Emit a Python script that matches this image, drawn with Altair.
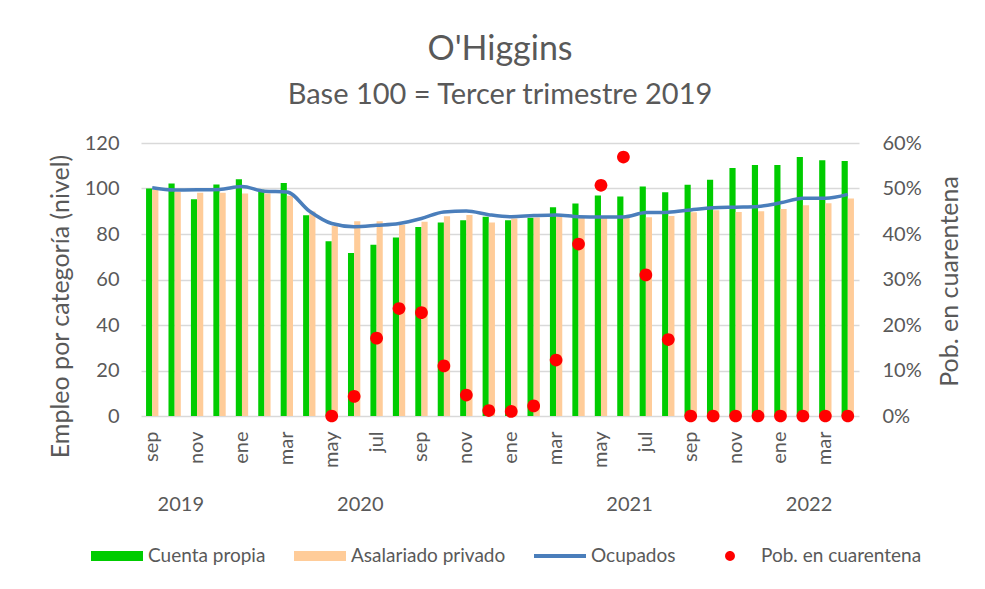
import altair as alt
import pandas as pd

# ---------------- data ----------------
periodos = [
    "2019-09", "2019-10", "2019-11", "2019-12",
    "2020-01", "2020-02", "2020-03", "2020-04", "2020-05", "2020-06",
    "2020-07", "2020-08", "2020-09", "2020-10", "2020-11", "2020-12",
    "2021-01", "2021-02", "2021-03", "2021-04", "2021-05", "2021-06",
    "2021-07", "2021-08", "2021-09", "2021-10", "2021-11", "2021-12",
    "2022-01", "2022-02", "2022-03", "2022-04",
]
meses_abrev = ["ene", "feb", "mar", "abr", "may", "jun",
               "jul", "ago", "sep", "oct", "nov", "dic"]

cuenta_propia = [100.0, 102.2, 95.3, 101.8, 104.1, 99.4, 102.4, 88.2, 76.8, 71.6,
                 75.3, 78.5, 83.1, 85.1, 86.0, 87.6, 86.0, 87.1, 91.8, 93.4,
                 96.9, 96.5, 100.9, 98.4, 101.6, 103.8, 109.0, 110.3, 110.3, 113.8,
                 112.4, 112.1]
asalariado_privado = [99.7, 98.5, 98.1, 98.1, 97.8, 97.8, 96.8, 89.9, 83.5, 85.6,
                      85.6, 84.1, 85.4, 87.8, 88.4, 85.1, 86.8, 87.2, 87.6, 87.2,
                      87.2, 87.2, 87.4, 87.9, 89.6, 90.4, 89.7, 90.0, 91.0, 92.6,
                      93.5, 95.6]
ocupados = [100.3, 99.3, 99.4, 99.6, 100.9, 98.8, 98.5, 90.1, 84.6, 83.2,
            83.8, 84.6, 86.8, 89.7, 90.1, 88.5, 87.6, 88.1, 88.4, 87.6,
            87.5, 87.5, 89.4, 89.6, 90.6, 91.5, 91.8, 92.1, 93.7, 95.7,
            95.7, 97.4]
# % population under quarantine (None = no data)
cuarentena_pct = [None, None, None, None, None, None, None, None,
                  0.0, 4.3, 17.1, 23.6, 22.7, 11.0, 4.6, 1.2,
                  1.0, 2.2, 12.3, 37.8, 50.7, 56.9, 31.0, 16.8,
                  0.0, 0.0, 0.0, 0.0, 0.0, 0.0, 0.0, 0.0]

series = ["Cuenta propia", "Asalariado privado", "Ocupados", "Pob. en cuarentena"]
colores = ["#00cc00", "#ffcc99", "#4a7ebb", "#ff0000"]
formas = [
    "M-1,-0.19H1V0.19H-1Z",
    "M-1,-0.19H1V0.19H-1Z",
    "M-1,-0.075H1V0.075H-1Z",
    "M0.19,0A0.19,0.19,0,1,1,-0.19,0A0.19,0.19,0,1,1,0.19,0Z",
]

# ---------------- tables ----------------
bars_df = pd.DataFrame({
    "periodo": periodos * 2,
    "serie": ["Cuenta propia"] * len(periodos) + ["Asalariado privado"] * len(periodos),
    "valor": cuenta_propia + asalariado_privado,
})
line_df = pd.DataFrame({"periodo": periodos, "valor": ocupados})
pts_df = pd.DataFrame({
    "periodo": [p for p, v in zip(periodos, cuarentena_pct) if v is not None],
    "cuarentena": [v / 100 for v in cuarentena_pct if v is not None],
})
pts_df["serie"] = "Pob. en cuarentena"

# year labels centred under each year's months
anios, anclas = [], []
for anio in sorted(set(p[:4] for p in periodos)):
    idx = [i for i, p in enumerate(periodos) if p[:4] == anio]
    centro = (idx[0] + idx[-1]) // 2
    anios.append(anio)
    anclas.append(periodos[centro])
years_df = pd.DataFrame({"periodo": anclas, "anio": anios})

# ---------------- encodings ----------------
GRIS = "#595959"
label_expr = "[" + ",".join(f"'{m}'" for m in meses_abrev) + "][toNumber(slice(datum.value,5,7))-1]"
x_axis = alt.Axis(values=periodos[::2], labelExpr=label_expr, labelAngle=270,
                  labelPadding=15, labelFontSize=20, title=None, domain=False, ticks=False)
x_scale = alt.Scale(domain=periodos, paddingInner=0.45, paddingOuter=0.225)

y_axis = alt.Axis(values=[0, 20, 40, 60, 80, 100, 120], title="Empleo por categoría (nivel)",
                  labelPadding=22, labelFontSize=20, titleFontSize=25, titleX=-81, titleY=163,
                  titleAngle=270, titleAlign="center", titleBaseline="middle",
                  grid=True, domain=False, ticks=False)
y_scale = alt.Scale(domain=[0, 120])

color_scale = alt.Scale(domain=series, range=colores)
legend = alt.Legend(title=None, orient="none", legendX=-50, legendY=387, direction="horizontal",
                    symbolSize=2704, labelFontSize=19, labelColor=GRIS, columnPadding=28,
                    labelOffset=5, labelLimit=400, symbolStrokeWidth=0, padding=0)

bars = alt.Chart(bars_df).mark_bar().encode(
    x=alt.X("periodo:N", scale=x_scale, axis=x_axis),
    xOffset=alt.XOffset("serie:N", scale=alt.Scale(domain=series[:2], paddingInner=0, paddingOuter=0)),
    y=alt.Y("valor:Q", scale=y_scale, axis=y_axis),
    color=alt.Color("serie:N", scale=color_scale, legend=legend),
)

line = alt.Chart(line_df).mark_line(color="#4a7ebb", strokeWidth=3.5, interpolate="monotone").encode(
    x=alt.X("periodo:N", scale=x_scale, axis=x_axis),
    y=alt.Y("valor:Q", scale=y_scale, axis=y_axis),
)

years = alt.Chart(years_df).mark_text(fontSize=20, color=GRIS, baseline="middle").encode(
    x=alt.X("periodo:N", scale=x_scale, axis=x_axis, bandPosition=1),
    y=alt.value(362),
    text="anio:N",
)

pts = alt.Chart(pts_df).mark_point(filled=True, size=4500, opacity=1, strokeWidth=0).encode(
    x=alt.X("periodo:N", scale=x_scale, axis=x_axis),
    y=alt.Y("cuarentena:Q", scale=alt.Scale(domain=[0, 0.6]),
            axis=alt.Axis(orient="right", values=[0, 0.1, 0.2, 0.3, 0.4, 0.5, 0.6], format=".0%",
                          title="Pob. en cuarentena", labelPadding=23, labelFontSize=20,
                          titleFontSize=25, titleX=90, titleY=138, titleAngle=270,
                          titleAlign="center", titleBaseline="middle",
                          grid=False, domain=False, ticks=False)),
    color=alt.Color("serie:N", scale=color_scale, legend=legend),
    shape=alt.Shape("serie:N", scale=alt.Scale(domain=series, range=formas), legend=legend),
)

chart = alt.layer(
    alt.layer(bars, line, years),
    pts,
).resolve_scale(y="independent").properties(
    width=718,
    height=273,
    autosize=alt.AutoSizeParams(type="none"),
    padding={"left": 133, "top": 135, "right": 118, "bottom": 155},
    title=alt.TitleParams(text="O'Higgins", subtitle="Base 100 = Tercer trimestre 2019",
                          fontSize=34, subtitleFontSize=29, fontWeight="normal",
                          color=GRIS, subtitleColor=GRIS, anchor="middle", frame="group",
                          offset=23, subtitlePadding=14),
).configure(font="Lato").configure_axis(
    labelColor=GRIS, titleColor=GRIS, titleFontWeight="normal",
    gridColor="#d9d9d9", gridWidth=1.5,
).configure_view(stroke="transparent")

chart.save("out.html", embed_options={"renderer": "svg", "actions": False})
